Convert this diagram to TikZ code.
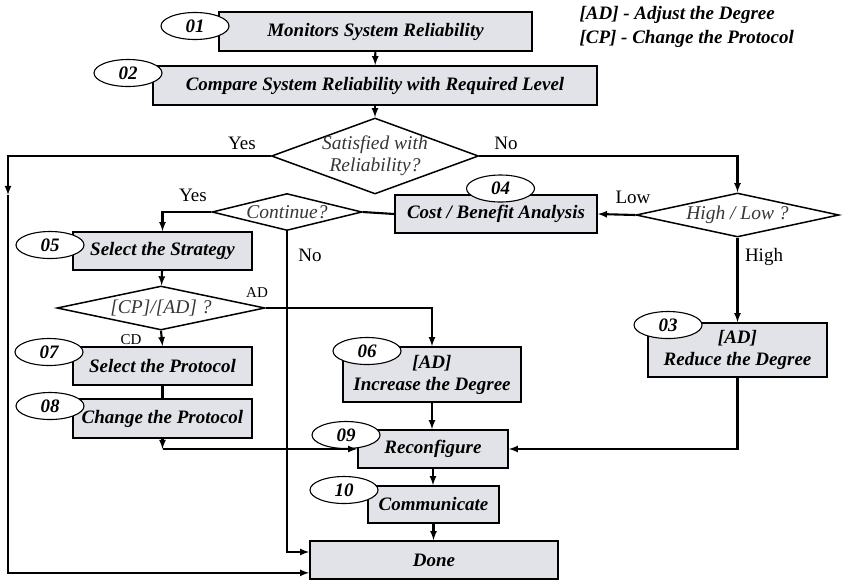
\documentclass[tikz,border=0pt]{standalone}
\usepackage{fontspec}
\setmainfont{Liberation Serif}
\usetikzlibrary{shapes.geometric}
\definecolor{boxfill}{RGB}{226,227,232}
\definecolor{asktext}{RGB}{55,55,55}

\begin{document}
\begin{tikzpicture}[x=1pt,y=-1pt,>=latex,
  font=\fontsize{19}{22}\selectfont,
  stepbox/.style={draw,line width=1.7pt,fill=boxfill,align=center,inner sep=0pt,
    font=\fontsize{19}{22}\selectfont\bfseries\itshape},
  num/.style={draw,ellipse,line width=1.1pt,fill=white,inner sep=0pt,
    minimum width=68pt,minimum height=27pt,font=\fontsize{19}{22}\selectfont\bfseries\itshape},
  ask/.style={draw,diamond,line width=1.5pt,fill=white,inner sep=0pt},
  asklabel/.style={text=asktext,font=\fontsize{19.5}{22}\selectfont\itshape,align=center},
  flow/.style={->,line width=2.1pt},
  link/.style={line width=2.1pt},
  small/.style={font=\fontsize{15}{17}\selectfont}]
  \useasboundingbox (0,0) rectangle (842,582);

  \node[stepbox,minimum width=313pt,minimum height=39pt] (b01) at (375.5,31.5) {Monitors System Reliability};
  \node[stepbox,minimum width=444pt,minimum height=39pt] (b02) at (375,85.5) {Compare System Reliability with Required Level};
  \node[ask,minimum width=207pt,minimum height=76pt,label={[asklabel]center:{Satisfied with\\Reliability?}}] (d1) at (375,156) {};
  \node[ask,minimum width=203pt,minimum height=44pt,label={[asklabel]center:{High / Low ?}}] (d2) at (737.5,215) {};
  \node[stepbox,minimum width=202pt,minimum height=38pt] (b04) at (496,214) {Cost / Benefit Analysis};
  \node[ask,minimum width=150pt,minimum height=37pt,label={[asklabel]center:{Continue?}}] (d3) at (287,212) {};
  \node[stepbox,minimum width=179pt,minimum height=38pt] (b05) at (162.5,251) {Select the Strategy};
  \node[ask,minimum width=208pt,minimum height=44pt,label={[asklabel]center:{[CP]/[AD] ?}}] (d4) at (161,308) {};
  \node[stepbox,minimum width=179pt,minimum height=38pt] (b07) at (162.5,366) {Select the Protocol};
  \node[stepbox,minimum width=179pt,minimum height=39pt] (b08) at (162.5,418.5) {Change the Protocol};
  \node[stepbox,minimum width=178pt,minimum height=55pt] (b06) at (432,374.5) {[AD]\\{}Increase the Degree};
  \node[stepbox,minimum width=179pt,minimum height=54pt] (b03) at (737.5,350) {[AD]\\{}Reduce the Degree};
  \node[stepbox,minimum width=150pt,minimum height=38pt] (b09) at (433,449) {Reconfigure};
  \node[stepbox,minimum width=131pt,minimum height=37pt] (b10) at (433.5,504.5) {Communicate};
  \node[stepbox,minimum width=248pt,minimum height=38pt] (done) at (434,560) {Done};

  \node[num] (e01) at (195,26) {01};
  \node[num] (e02) at (128,73) {02};
  \node[num] (e04) at (500.5,188.5) {04};
  \node[num] (e05) at (50,245) {05};
  \node[num] (e07) at (49,352) {07};
  \node[num] (e08) at (50,406) {08};
  \node[num] (e06) at (367,351) {06};
  \node[num] (e03) at (668,325) {03};
  \node[num] (e09) at (346,435) {09};
  \node[num] (e10) at (344,490) {10};

  \node[anchor=west,align=left,font=\fontsize{19}{24}\selectfont\bfseries\itshape] (legend) at (576,27)
    {[AD] - Adjust the Degree\\{}[CP] - Change the Protocol};

  \node (yes1) at (242,143) {Yes};
  \node (no1) at (506,143) {No};
  \node (low) at (633,197) {Low};
  \node (high) at (764,257) {High};
  \node (yes2) at (193,195) {Yes};
  \node (no2) at (310,255) {No};
  \node[small] (adl) at (257,293) {AD};
  \node[small] (cdl) at (131,340) {CD};

  \coordinate (yesdown) at (8,195);
  \coordinate (protjoin) at (b08.south |- b09.west);

  \draw[flow] (b01) -- (b02);
  \draw[flow] (b02) -- (d1);
  \draw[flow] (d1.west) -| (yesdown);
  \draw[flow] (yesdown) |- ([yshift=7pt]done.south west);
  \draw[flow] (d1.east) -| (d2.north);
  \draw[flow] (d2.west) -- (b04.east);
  \draw[flow] (d2.south) -- (b03.north);
  \draw[link] (b04.west) -- (d3.east);
  \draw[flow] (d3.west) -| (b05.north);
  \draw[flow] (d3.south) |- ([yshift=8pt]done.west);
  \draw[flow] (b05) -- (d4);
  \draw[flow] (d4.east) -| (b06.north);
  \draw[flow] (d4.south) -- (b07.north);
  \draw[link] (b07) -- (b08);
  \draw[flow] (b08.south) -- (protjoin);
  \draw[flow] (protjoin) -- (b09.west);
  \draw[flow] (b06.south) -- (b06.south |- b09.north);
  \draw[flow] (b03.south) |- (b09.east);
  \draw[flow] (b09.south) -- (b09.south |- b10.north);
  \draw[flow] (b10.south) -- (b10.south |- done.north);
\end{tikzpicture}
\end{document}
